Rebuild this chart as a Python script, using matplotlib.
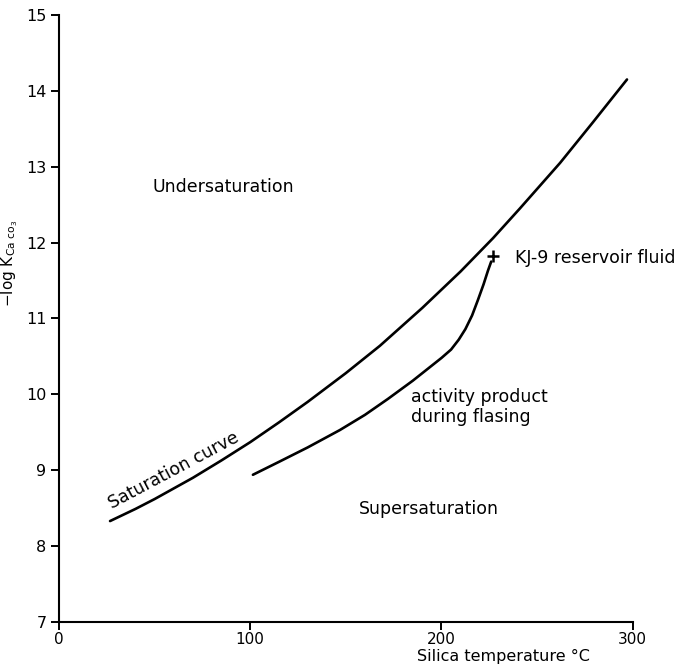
import matplotlib
matplotlib.use('Agg')
import matplotlib.pyplot as plt

# Saturation curve (silica temperature, -log K)
sat_t = [26.7, 40, 50, 60, 70, 85, 100, 115, 130, 150, 167.8, 190, 210, 227, 241, 262, 279, 297]
sat_k = [8.33, 8.49, 8.62, 8.76, 8.90, 9.13, 9.37, 9.63, 9.90, 10.28, 10.64, 11.14,
         11.62, 12.06, 12.45, 13.05, 13.58, 14.15]

# Activity product during flashing
act_t = [101.4, 115, 130, 146.9, 160, 172, 185, 193, 200, 205, 209, 212.5, 216, 219, 222,
         224.3, 226]
act_k = [8.94, 9.11, 9.30, 9.53, 9.73, 9.94, 10.18, 10.34, 10.48, 10.59, 10.72, 10.86,
         11.04, 11.24, 11.45, 11.63, 11.75]

# KJ-9 reservoir fluid
kj9_t = [226.9]
kj9_k = [11.83]

xticks = [0, 100, 200, 300]
yticks = [7, 8, 9, 10, 11, 12, 13, 14, 15]

plt.rcParams['font.family'] = ['DejaVu Sans']

fig = plt.figure(figsize=(6.9, 6.69), dpi=100)
ax = fig.add_axes([0.0855, 0.0703, 0.8315, 0.9073])

ax.plot(sat_t, sat_k, color='black', lw=1.9, solid_capstyle='round')
ax.plot(act_t, act_k, color='black', lw=1.9, solid_capstyle='round')
ax.plot(kj9_t, kj9_k, marker='+', color='black', ms=9, mew=1.8, ls='none')

ax.set_xlim(0, 300)
ax.set_ylim(7, 15)
ax.set_xticks(xticks)
ax.set_yticks(yticks)
ax.spines['top'].set_visible(False)
ax.spines['right'].set_visible(False)
for s in ['left', 'bottom']:
    ax.spines[s].set_linewidth(1.5)
ax.tick_params(direction='out', length=6, width=1.4, labelsize=11.5, pad=3)
ax.tick_params(axis='x', labelsize=11, pad=1.5)

ax.set_xlabel('Silica temperature °C', fontsize=11.5)
ax.xaxis.set_label_coords(0.774, -0.044)
ax.set_ylabel(r'$-\mathrm{log}\ \mathrm{K}_{\mathrm{Ca}\ \mathrm{co}_3}$', fontsize=11)
ax.yaxis.set_label_coords(-0.068, 0.59)

ax.text(49, 12.73, 'Undersaturation', ha='left', va='center', fontsize=12.5)
ax.text(156.8, 8.49, 'Supersaturation', ha='left', va='center', fontsize=12.5)
ax.text(238.4, 11.80, 'KJ-9 reservoir fluid', ha='left', va='center', fontsize=12.5)
ax.text(184, 10.09, 'activity product\nduring flasing', ha='left', va='top',
        fontsize=12.5, linespacing=1.15)
ax.text(28.5, 8.44, 'Saturation curve', ha='left', va='bottom', rotation=28,
        rotation_mode='anchor', fontsize=12.5)

fig.savefig('out.png', dpi=100)
